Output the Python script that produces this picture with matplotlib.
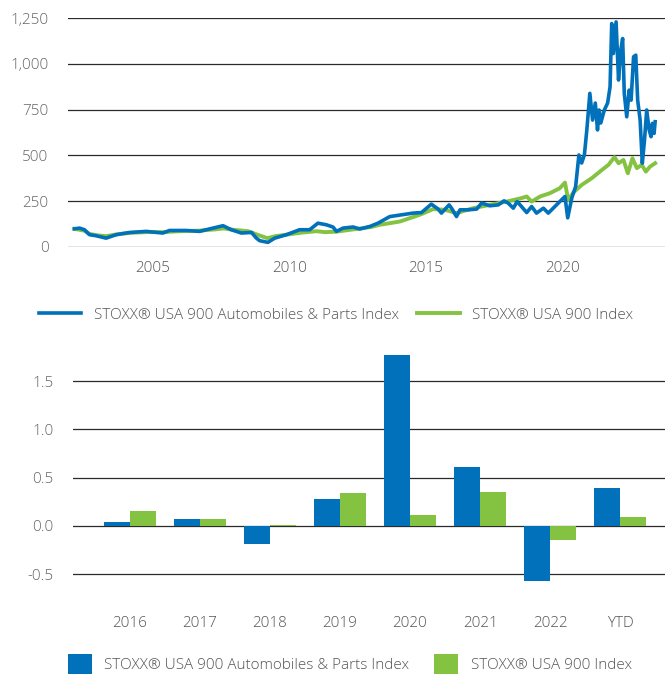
import matplotlib.pyplot as plt
import matplotlib.ticker as mticker
import numpy as np

plt.rcParams['font.family'] = ['Open Sans', 'DejaVu Sans']
plt.rcParams['font.weight'] = 'light'
plt.rcParams['font.size'] = 11
plt.rcParams['text.color'] = '#555555'
plt.rcParams['xtick.color'] = '#555555'
plt.rcParams['ytick.color'] = '#666666'

COLOR_AUTO = "#0071BA"
COLOR_BROAD = "#84C341"
COLOR_GRID = "#2a2a2a"

# --- top panel: index levels (decimal year, level) ---
years_auto = [2002.14, 2002.33, 2002.51, 2002.69, 2002.94, 2003.3, 2003.67, 2004.16, 2004.77,
              2005.38, 2005.62, 2006.23, 2006.72, 2007.21, 2007.58, 2007.88, 2008.25, 2008.62,
              2008.8, 2008.92, 2009.22, 2009.47, 2009.9, 2010.38, 2010.75, 2011.05, 2011.36,
              2011.6, 2011.73, 2011.97, 2012.34, 2012.58, 2012.95, 2013.25, 2013.68, 2014.53,
              2014.84, 2015.2, 2015.45, 2015.57, 2015.85, 2015.94, 2016.12, 2016.25, 2016.55,
              2016.86, 2017.04, 2017.34, 2017.65, 2017.86, 2018.01, 2018.2, 2018.34, 2018.5,
              2018.69, 2018.87, 2019.05, 2019.3, 2019.48, 2019.66, 2019.9, 2020.09, 2020.19,
              2020.34, 2020.48, 2020.6, 2020.7, 2020.8, 2020.89, 2021.0, 2021.1, 2021.2,
              2021.28, 2021.34, 2021.4, 2021.53, 2021.65, 2021.74, 2021.8, 2021.86, 2021.96,
              2022.05, 2022.13, 2022.2, 2022.26, 2022.35, 2022.44, 2022.51, 2022.6, 2022.68,
              2022.75, 2022.84, 2022.92, 2023.0, 2023.08, 2023.17, 2023.24, 2023.29, 2023.35,
              2023.39]
level_auto = [98, 102, 93, 66, 60, 47, 66, 78, 84,
              75, 89, 89, 84, 102, 115, 93, 75, 78,
              47, 33, 24, 47, 66, 93, 93, 129, 120,
              108, 84, 102, 108, 97, 111, 129, 165, 184,
              187, 233, 206, 184, 229, 211, 165, 202, 202,
              206, 239, 224, 229, 251, 239, 211, 247, 220,
              187, 220, 184, 211, 184, 211, 247, 275, 158,
              267, 329, 502, 458, 502, 639, 839, 693, 786,
              639, 748, 677, 748, 786, 875, 1221, 1057, 1230,
              912, 1075, 1139, 839, 711, 857, 802, 1039, 1048,
              802, 693, 457, 584, 748, 639, 602, 675, 620,
              684]

years_broad = [2002.14, 2002.5, 2002.7, 2003.0, 2003.3, 2003.7, 2004.2, 2004.8, 2005.4,
               2006.0, 2006.7, 2007.3, 2007.6, 2008.0, 2008.5, 2008.85, 2009.2, 2009.5,
               2010.0, 2010.5, 2011.0, 2011.3, 2011.7, 2012.0, 2012.5, 2013.0, 2013.31,
               2014.05, 2014.78, 2015.27, 2015.7, 2016.12, 2016.73, 2017.34, 2017.95, 2018.5,
               2018.69, 2018.87, 2019.18, 2019.54, 2019.9, 2020.09, 2020.21, 2020.4, 2020.7,
               2021.07, 2021.44, 2021.68, 2021.9, 2022.05, 2022.23, 2022.39, 2022.56, 2022.72,
               2022.9, 2023.05, 2023.2, 2023.39]
level_broad = [98, 88, 70, 62, 58, 68, 76, 80, 80,
               85, 88, 95, 100, 92, 85, 65, 47, 58,
               68, 78, 85, 80, 82, 88, 98, 108, 120,
               138, 175, 206, 202, 184, 211, 229, 247, 266,
               275, 247, 275, 293, 320, 351, 255, 297, 338,
               375, 420, 448, 490, 457, 475, 402, 484, 430,
               448, 411, 438, 457]

# --- bottom panel: annual returns ---
periods = ["2016", "2017", "2018", "2019", "2020", "2021", "2022", "YTD"]
ret_auto = [0.045, 0.073, -0.183, 0.28, 1.772, 0.611, -0.566, 0.394]
ret_broad = [0.155, 0.073, 0.005, 0.342, 0.114, 0.352, -0.145, 0.093]

LABEL_AUTO = "STOXX® USA 900 Automobiles & Parts Index"
LABEL_BROAD = "STOXX® USA 900 Index"

fig = plt.figure(figsize=(6.65, 6.76), dpi=100)

# line chart
ax1 = fig.add_axes([0.102, 0.635, 0.898, 0.338])
ax1.plot(years_broad, level_broad, color=COLOR_BROAD, lw=2.8, label=LABEL_BROAD, zorder=3)
ax1.plot(years_auto, level_auto, color=COLOR_AUTO, lw=2.6, label=LABEL_AUTO, zorder=4)
ax1.set_xlim(2001.9, 2023.75)
ax1.set_ylim(0, 1250)
ax1.set_xticks([2005, 2010, 2015, 2020])
ax1.set_yticks([0, 250, 500, 750, 1000, 1250])
ax1.yaxis.set_major_formatter(mticker.FuncFormatter(lambda v, p: f"{v:,.0f}"))
ax1.grid(axis='y', color=COLOR_GRID, lw=0.9)
ax1.set_axisbelow(True)
for s in ax1.spines.values():
    s.set_visible(False)
ax1.tick_params(length=0, pad=10)
ax1.tick_params(axis='y', pad=14)

h1, l1 = ax1.get_legend_handles_labels()
fig.legend(h1[::-1], l1[::-1], loc='center', bbox_to_anchor=(0.505, 0.534), ncol=2,
           frameon=False, handlelength=2.8, columnspacing=1.2, handletextpad=0.8)

# bar chart
ax2 = fig.add_axes([0.11, 0.115, 0.89, 0.364])
x = np.arange(len(periods))
w = 0.375
ax2.bar(x - w / 2, ret_auto, width=w, color=COLOR_AUTO, label=LABEL_AUTO, zorder=3)
ax2.bar(x + w / 2, ret_broad, width=w, color=COLOR_BROAD, label=LABEL_BROAD, zorder=3)
ax2.set_xlim(-0.81, 7.64)
ax2.set_ylim(-0.75, 1.8)
ax2.set_xticks(x)
ax2.set_xticklabels(periods)
ax2.set_yticks([-0.5, 0.0, 0.5, 1.0, 1.5])
ax2.yaxis.set_major_formatter(mticker.FuncFormatter(lambda v, p: f"{v:.1f}"))
ax2.grid(axis='y', color=COLOR_GRID, lw=0.9)
ax2.set_axisbelow(True)
for s in ax2.spines.values():
    s.set_visible(False)
ax2.tick_params(length=0)
ax2.tick_params(axis='x', pad=13)
ax2.tick_params(axis='y', pad=14)

h2, l2 = ax2.get_legend_handles_labels()
fig.legend(h2, l2, loc='center', bbox_to_anchor=(0.526, 0.018), ncol=2,
           frameon=False, handlelength=1.6, handleheight=1.6, columnspacing=1.6,
           handletextpad=0.8)

fig.savefig("out.png", dpi=100, facecolor='white')
